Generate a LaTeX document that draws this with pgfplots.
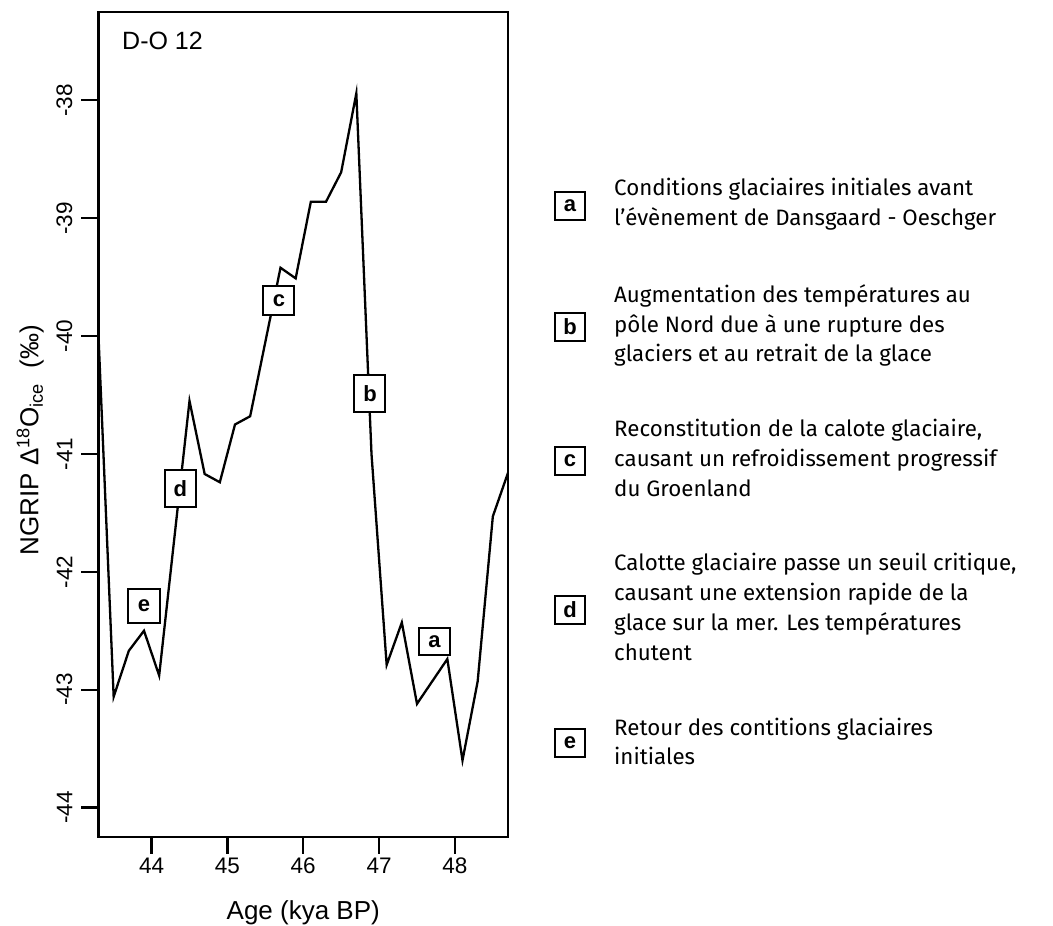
\documentclass[border=0pt]{standalone}
\usepackage{fontspec}
\setmainfont{Liberation Sans}
\newfontfamily\descfont{Fira Sans}
\usepackage{pgfplots}
\pgfplotsset{compat=1.18}

\tikzset{
  lbox/.style={draw=black, line width=2pt, fill=white, inner sep=0pt,
    minimum width=31pt, minimum height=28pt,
    font=\fontsize{22}{24}\selectfont\bfseries},
}
\newcommand{\descline}[2]{\node[anchor=base west, inner sep=0pt,
  font=\descfont\fontsize{22.3}{30}\selectfont] at (614,926-#1) {#2};}

\begin{document}
\begin{tikzpicture}[x=1pt,y=1pt]
\path[use as bounding box] (0,0) rectangle (1053,926);

\begin{axis}[
  at={(98.5pt,89pt)}, anchor=south west,
  scale only axis, width=409.5pt, height=825pt,
  xmin=43.3, xmax=48.7,
  ymin=-44.25, ymax=-37.25,
  xtick={44,45,46,47,48},
  ytick={-44,-43,-42,-41,-40,-39,-38},
  tick align=outside, tick pos=left,
  major tick length=17pt,
  tick style={black, line width=2.2pt},
  axis line style={line width=2.2pt},
  /pgf/number format/assume math mode=true,
  ticklabel style={font=\fontsize{22.5}{26}\selectfont},
  yticklabel style={rotate=90, anchor=south, inner sep=9pt},
  label style={font=\fontsize{26}{30}\selectfont},
  xlabel={Age (kya BP)},
  xlabel style={at={(axis description cs:0.5,-0.092)}, anchor=center},
  ylabel={NGRIP \symbol{"0394}\textsuperscript{18}O\textsubscript{ice}\hspace{0.6em}(‰)},
  ylabel style={at={(axis description cs:-0.167,0.481)}, anchor=center},
]

\addplot[black, line width=2.3pt, line join=miter] coordinates {
  (43.3,-40.00) (43.5,-43.06) (43.7,-42.67) (43.9,-42.50) (44.1,-42.88)
  (44.5,-40.55) (44.7,-41.17) (44.9,-41.24) (45.1,-40.75) (45.3,-40.68)
  (45.7,-39.42) (45.9,-39.51) (46.1,-38.86) (46.3,-38.86) (46.5,-38.61)
  (46.7,-37.94) (46.9,-41.00) (47.1,-42.79) (47.3,-42.43) (47.5,-43.12)
  (47.9,-42.74) (48.1,-43.60) (48.3,-42.93) (48.5,-41.53) (48.7,-41.16)
};

\node[lbox, minimum height=27pt] at (axis cs:47.73,-42.59) {a};
\node[lbox, minimum height=37pt] at (axis cs:46.88,-40.49) {b};
\node[lbox, minimum height=29pt] at (axis cs:45.68,-39.70) {c};
\node[lbox, minimum height=37pt] at (axis cs:44.38,-41.29) {d};
\node[lbox, minimum height=34pt] at (axis cs:43.90,-42.29) {e};
\end{axis}

\node[anchor=base west, inner sep=0pt, font=\fontsize{25}{30}\selectfont]
  at (122,926-50) {D-O 12};

% legend boxes
\node[lbox, minimum width=30pt] at (570,926-206) {a};
\node[lbox, minimum width=30pt] at (570,926-327) {b};
\node[lbox, minimum width=30pt] at (570,926-461) {c};
\node[lbox, minimum width=30pt] at (570,926-610) {d};
\node[lbox, minimum width=30pt] at (570,926-743) {e};

\descline{196}{Conditions glaciaires initiales avant}
\descline{226}{l’évènement de Dansgaard - Oeschger}
\descline{303}{Augmentation des températures au}
\descline{333}{pôle Nord due à une rupture des}
\descline{362}{glaciers et au retrait de la glace}
\descline{437}{Reconstitution de la calote glaciaire,}
\descline{467}{causant un refroidissement progressif}
\descline{497}{du Groenland}
\descline{571}{Calotte glaciaire passe un seuil critique,}
\descline{601}{causant une extension rapide de la}
\descline{631}{glace sur la mer. Les températures}
\descline{661}{chutent}
\descline{736}{Retour des contitions glaciaires}
\descline{765}{initiales}
\end{tikzpicture}
\end{document}
